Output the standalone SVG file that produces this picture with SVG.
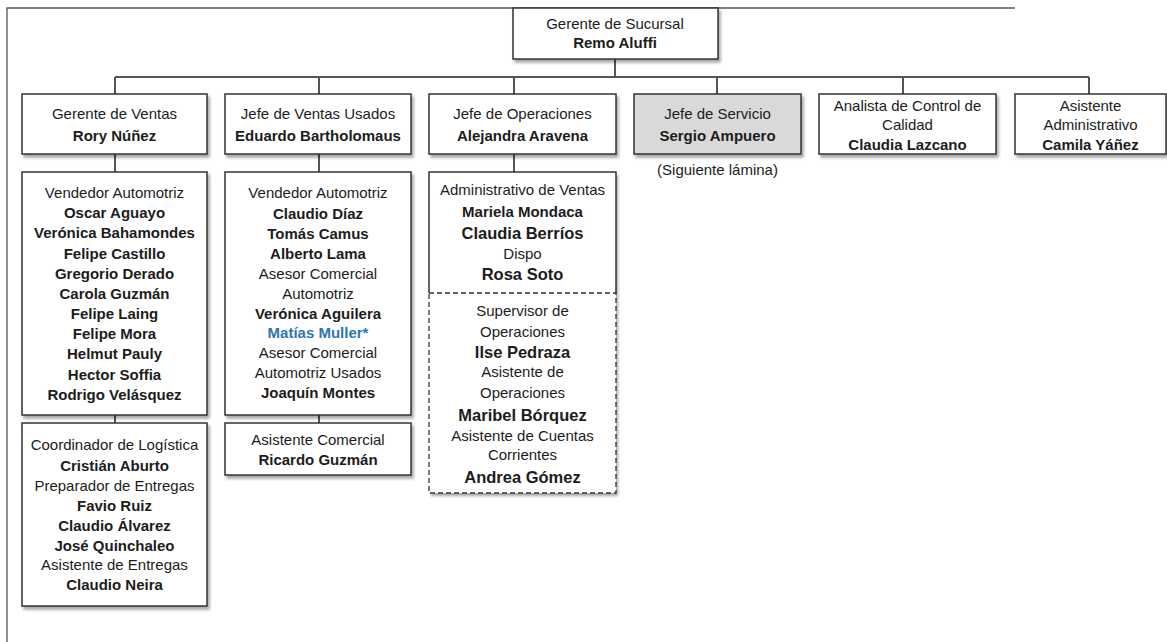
<svg xmlns="http://www.w3.org/2000/svg" width="1167" height="642" viewBox="0 0 1167 642">
<defs>
<filter id="sh" x="-10%" y="-10%" width="130%" height="130%">
<feDropShadow dx="2" dy="3" stdDeviation="1.8" flood-color="#000" flood-opacity="0.35"/>
</filter>
<style>
.box{fill:#fff;stroke:#333;stroke-width:1.5;filter:url(#sh)}
.grey{fill:#d9d9d9}
.con{stroke:#555;stroke-width:2;fill:none}
.frame{stroke:#555;stroke-width:1.3;fill:none}
.dash{stroke:#333;stroke-width:1.3;stroke-dasharray:5,3;fill:none}
text{font-family:"Liberation Sans",Arial,sans-serif;font-size:15px;fill:#1c1c1c;text-anchor:middle}
.b{font-weight:bold}
.L{font-size:16.5px}
.blue{fill:#2e75b6}
</style>
</defs>
<g id="frame">
<path class="frame" d="M7,642 V8 H1015"/>
</g>
<g id="connectors">
<path class="con" d="M615,59 V77"/>
<path class="con" d="M115,77 H1089"/>
<path class="con" d="M115,77 V94 M319,77 V94 M514,77 V94 M717,77 V94 M903,77 V94 M1089,77 V94"/>
<path class="con" d="M115,154 V172 M319,154 V172 M514,154 V172"/>
<path class="con" d="M115,415 V423 M319,415 V423"/>
</g>
<g id="gerente-sucursal">
<rect class="box" x="513" y="8" width="205" height="51"/>
<text x="615" y="29">Gerente de Sucursal</text>
<text x="615" y="48" class="b">Remo Aluffi</text>
</g>
<g id="gerente-ventas">
<rect class="box" x="22" y="94" width="185" height="60"/>
<text x="114.5" y="119">Gerente de Ventas</text>
<text x="114.5" y="141" class="b">Rory Núñez</text>
</g>
<g id="jefe-ventas-usados">
<rect class="box" x="225" y="94" width="186" height="60"/>
<text x="318" y="119">Jefe de Ventas Usados</text>
<text x="318" y="141" class="b">Eduardo Bartholomaus</text>
</g>
<g id="jefe-operaciones">
<rect class="box" x="429" y="94" width="187" height="60"/>
<text x="522.5" y="119">Jefe de Operaciones</text>
<text x="522.5" y="141" class="b">Alejandra Aravena</text>
</g>
<g id="jefe-servicio">
<rect class="box grey" x="634" y="94" width="167" height="60"/>
<text x="717.5" y="119">Jefe de Servicio</text>
<text x="717.5" y="141" class="b">Sergio Ampuero</text>
<text x="717.5" y="175">(Siguiente lámina)</text>
</g>
<g id="analista-calidad">
<rect class="box" x="819" y="94" width="177" height="60"/>
<text x="907.5" y="111">Analista de Control de</text>
<text x="907.5" y="130">Calidad</text>
<text x="907.5" y="150" class="b">Claudia Lazcano</text>
</g>
<g id="asistente-administrativo">
<rect class="box" x="1015" y="94" width="151" height="60"/>
<text x="1090.5" y="111">Asistente</text>
<text x="1090.5" y="130">Administrativo</text>
<text x="1090.5" y="150" class="b">Camila Yáñez</text>
</g>
<g id="vendedores">
<rect class="box" x="22" y="172" width="185" height="243"/>
<text x="114.5" y="198">Vendedor Automotriz</text>
<text x="114.5" y="218" class="b">Oscar Aguayo</text>
<text x="114.5" y="238" class="b">Verónica Bahamondes</text>
<text x="114.5" y="259" class="b">Felipe Castillo</text>
<text x="114.5" y="279" class="b">Gregorio Derado</text>
<text x="114.5" y="299" class="b">Carola Guzmán</text>
<text x="114.5" y="319" class="b">Felipe Laing</text>
<text x="114.5" y="339" class="b">Felipe Mora</text>
<text x="114.5" y="359" class="b">Helmut Pauly</text>
<text x="114.5" y="380" class="b">Hector Soffia</text>
<text x="114.5" y="400" class="b">Rodrigo Velásquez</text>
</g>
<g id="vendedores-usados">
<rect class="box" x="225" y="172" width="186" height="243"/>
<text x="318" y="198">Vendedor Automotriz</text>
<text x="318" y="219" class="b">Claudio Díaz</text>
<text x="318" y="239" class="b">Tomás Camus</text>
<text x="318" y="259" class="b">Alberto Lama</text>
<text x="318" y="279">Asesor Comercial</text>
<text x="318" y="299">Automotriz</text>
<text x="318" y="319" class="b">Verónica Aguilera</text>
<text x="318" y="338" class="b blue">Matías Muller*</text>
<text x="318" y="358">Asesor Comercial</text>
<text x="318" y="378">Automotriz Usados</text>
<text x="318" y="398" class="b">Joaquín Montes</text>
</g>
<g id="logistica">
<rect class="box" x="22" y="423" width="185" height="183"/>
<text x="114.5" y="450">Coordinador de Logística</text>
<text x="114.5" y="471" class="b">Cristián Aburto</text>
<text x="114.5" y="491">Preparador de Entregas</text>
<text x="114.5" y="511" class="b">Favio Ruiz</text>
<text x="114.5" y="531" class="b">Claudio Álvarez</text>
<text x="114.5" y="551" class="b">José Quinchaleo</text>
<text x="114.5" y="570">Asistente de Entregas</text>
<text x="114.5" y="590" class="b">Claudio Neira</text>
</g>
<g id="asistente-comercial">
<rect class="box" x="225" y="423" width="186" height="52"/>
<text x="318" y="445">Asistente Comercial</text>
<text x="318" y="465" class="b">Ricardo Guzmán</text>
</g>
<g id="operaciones">
<rect x="429" y="172" width="187" height="321" fill="#fff" filter="url(#sh)"/>
<path d="M429,293 V172 H616 V293" fill="none" stroke="#333" stroke-width="1.5"/>
<path class="dash" d="M429,293 H616 V493 H429 Z"/>
<text x="522.5" y="195">Administrativo de Ventas</text>
<text x="522.5" y="217" class="b">Mariela Mondaca</text>
<text x="522.5" y="239" class="b L">Claudia Berríos</text>
<text x="522.5" y="259">Dispo</text>
<text x="522.5" y="280" class="b L">Rosa Soto</text>
<text x="522.5" y="316">Supervisor de</text>
<text x="522.5" y="337">Operaciones</text>
<text x="522.5" y="358" class="b L">Ilse Pedraza</text>
<text x="522.5" y="377">Asistente de</text>
<text x="522.5" y="398">Operaciones</text>
<text x="522.5" y="421" class="b L">Maribel Bórquez</text>
<text x="522.5" y="441">Asistente de Cuentas</text>
<text x="522.5" y="460">Corrientes</text>
<text x="522.5" y="483" class="b L">Andrea Gómez</text>
</g>
</svg>
